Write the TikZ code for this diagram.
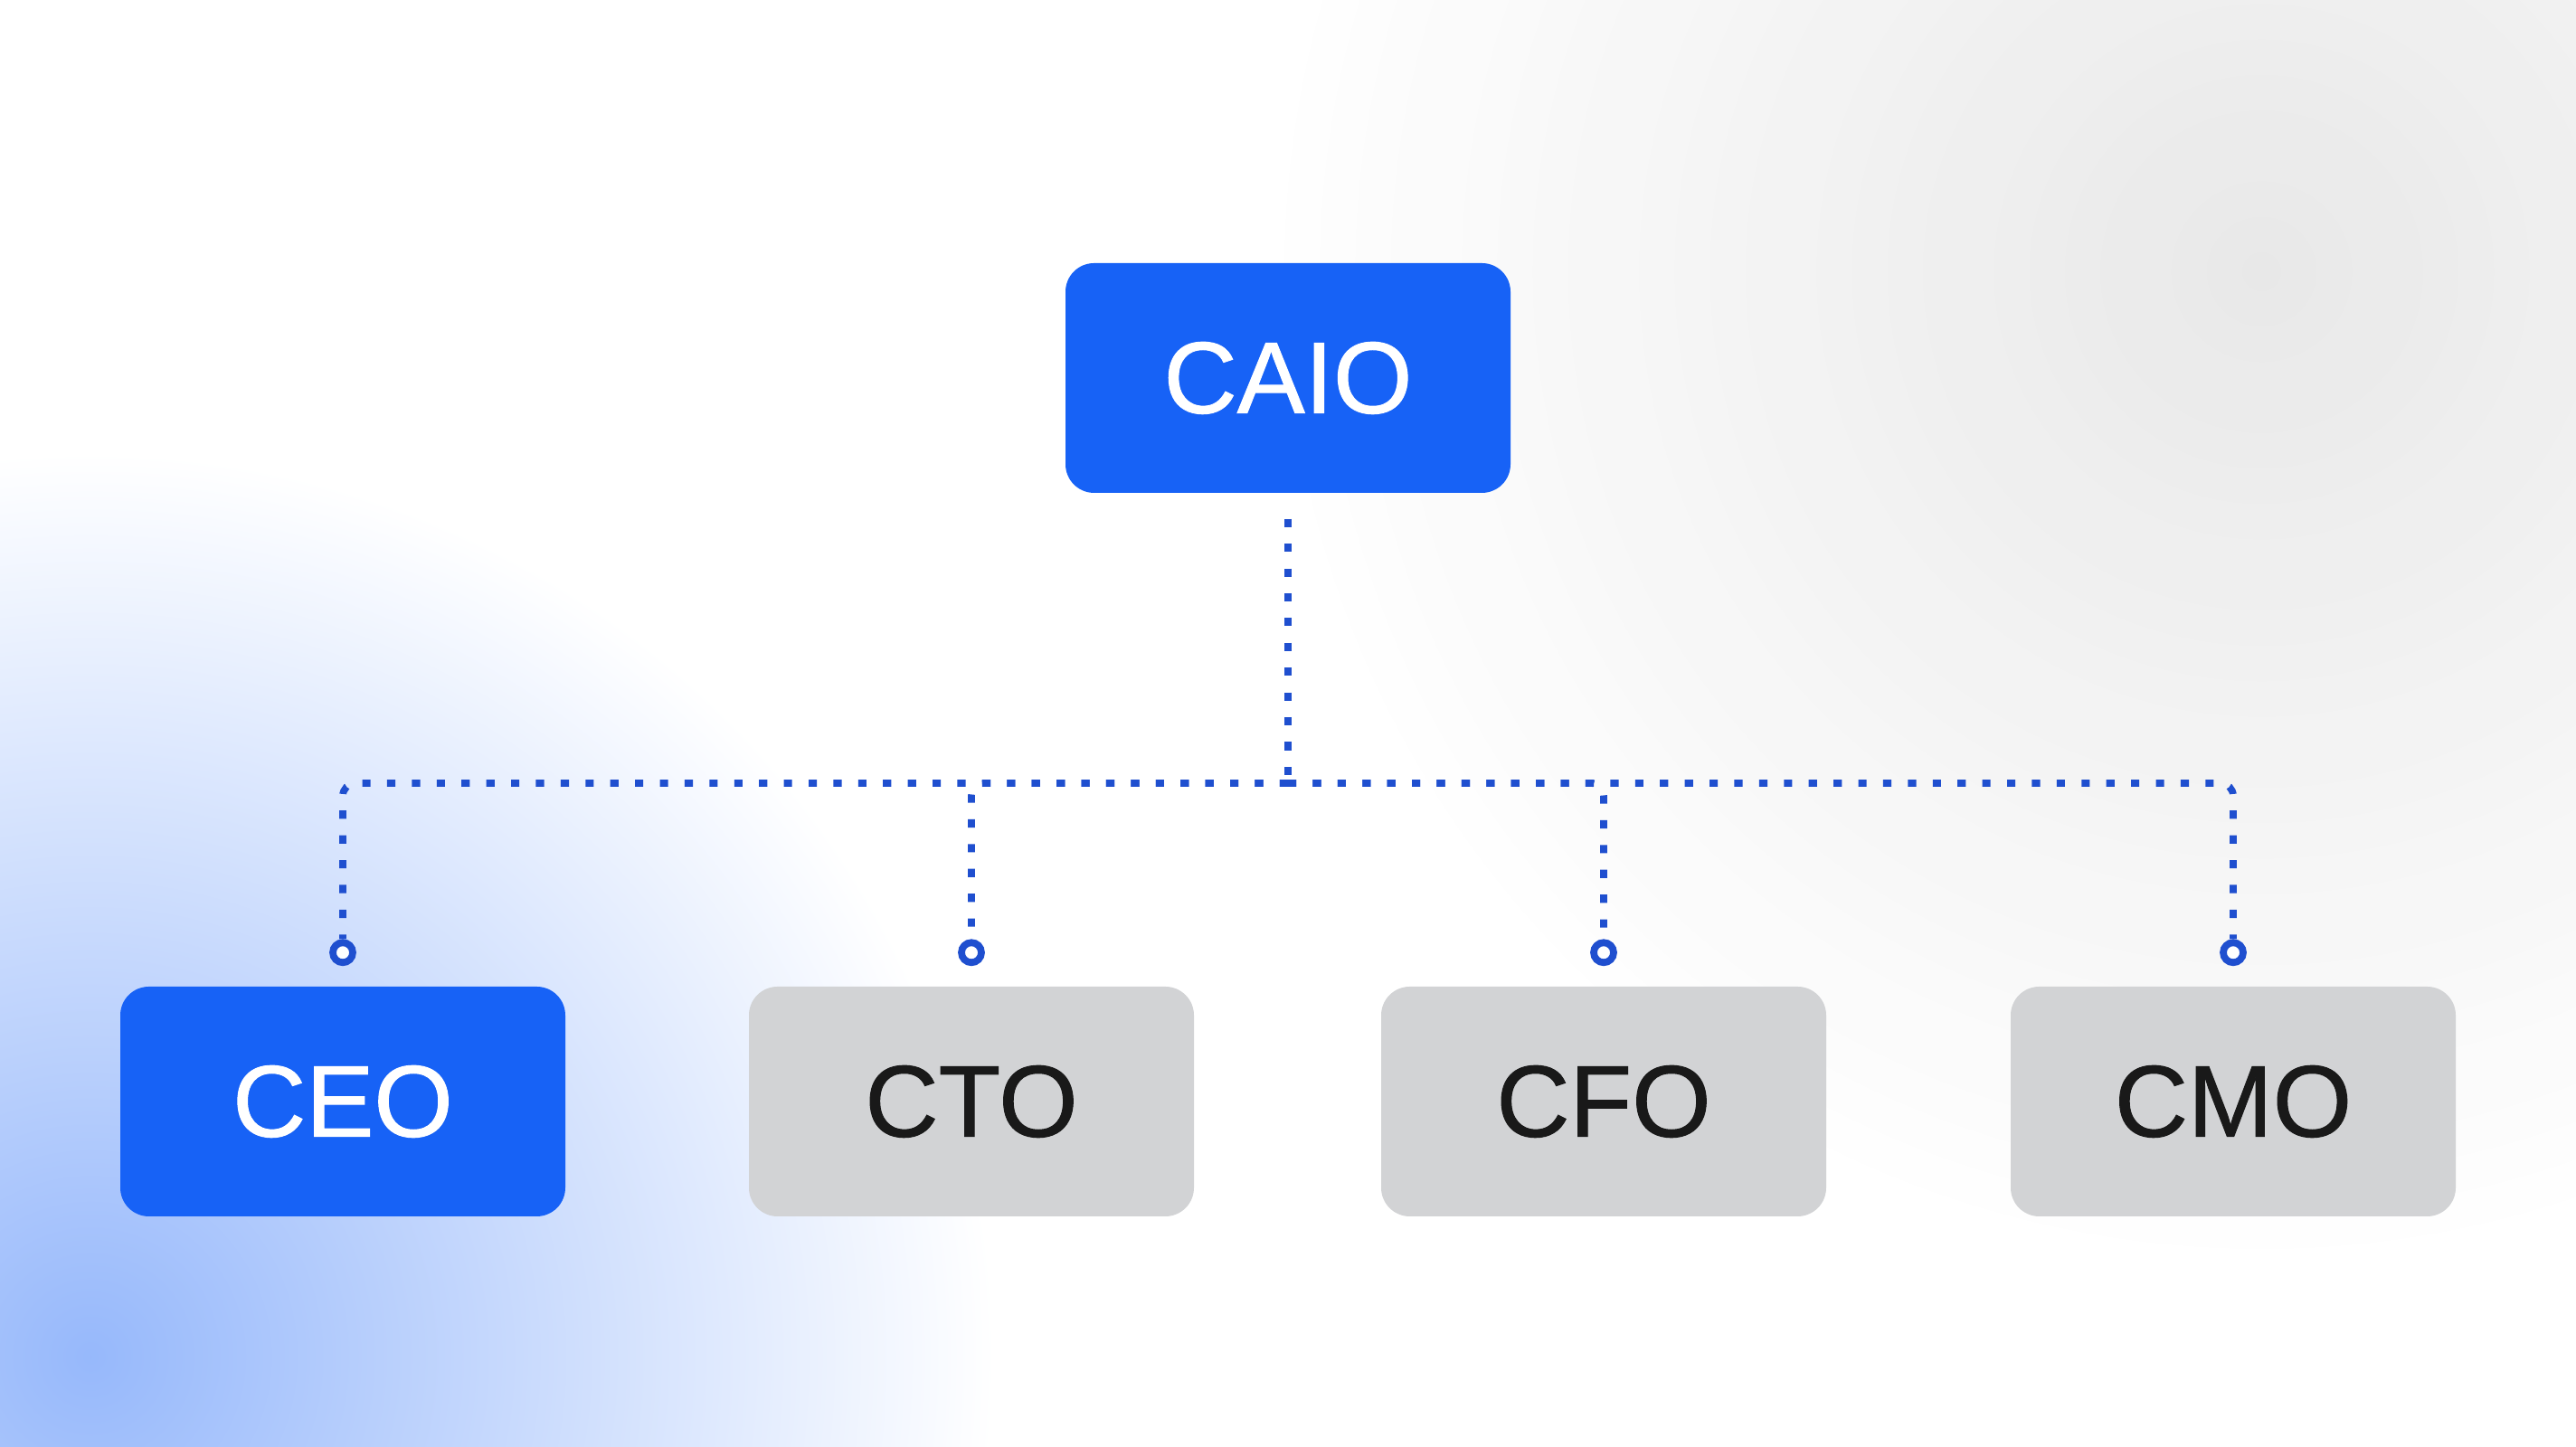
\documentclass[tikz,border=0pt]{standalone}
\usepackage{fontspec}
\setmainfont{Liberation Sans}[UprightFeatures={FakeBold=0.9}]
\usetikzlibrary{positioning}
\definecolor{roleblue}{HTML}{1762F6}
\definecolor{rolegray}{HTML}{D2D3D5}
\definecolor{linkblue}{HTML}{1F4FCF}
\tikzset{
  role/.style={rounded corners=9pt, minimum width=4.92cm, minimum height=2.54cm,
    font=\fontsize{32}{38}\selectfont, draw=none},
  lead/.style={role, fill=roleblue, text=white},
  staff/.style={role, fill=rolegray, text=black!90},
  link/.style={linkblue, line width=2.2pt, dash pattern=on 2.6pt off 5.2pt},
  port/.style={circle, draw=linkblue, line width=2.2pt, fill=white, inner sep=0pt, minimum size=0.22cm}
}
\begin{document}
\begin{tikzpicture}
	\useasboundingbox (0,0) rectangle (28.48,16);
	% background
	\fill[white] (0,0) rectangle (28.48,16);
	\begin{scope}
		\clip (0,0) rectangle (28.48,16);
		\shade[inner color=gray!22, outer color=white, opacity=0.8] (25,13) circle (11);
		\shade[inner color=roleblue!45, outer color=white] (1,1) circle (10);
	\end{scope}
	% boxes
	\node[lead] (caio) at (14.24,11.82) {CAIO};
	\node[lead] (ceo) at (3.79,3.82) {CEO};
	\node[staff] (cto) at (10.74,3.82) {CTO};
	\node[staff] (cfo) at (17.73,3.82) {CFO};
	\node[staff] (cmo) at (24.69,3.82) {CMO};
	% links
	\coordinate (hub) at (14.24,7.34);
	\draw[link] ([yshift=-0.28cm]caio.south) -- (hub);
	\foreach \r in {ceo, cto, cfo, cmo}{
		\node[port] (p\r) at ([yshift=0.37cm]\r.north) {};
		\draw[link, rounded corners=4pt] (hub) -| (p\r.north);
	}
\end{tikzpicture}
\end{document}
